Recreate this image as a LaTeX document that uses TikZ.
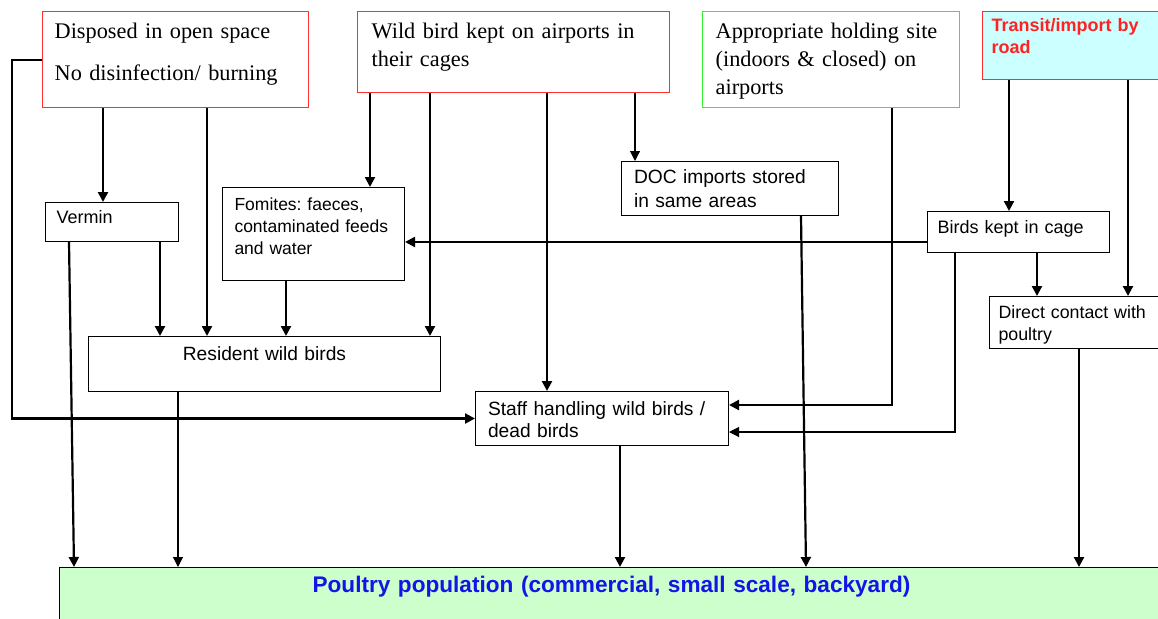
\documentclass[tikz,border=0pt]{standalone}
\usepackage{fontspec}
\setmainfont{Liberation Serif}
\setsansfont{Liberation Sans}
\usepackage{xcolor}
\usetikzlibrary{arrows.meta}
\definecolor{redline}{HTML}{FF3030}
\definecolor{greenline}{HTML}{30F030}
\definecolor{roadfill}{HTML}{CCFFFF}
\definecolor{roadtext}{HTML}{FF2222}
\definecolor{poultryfill}{HTML}{CCFFCC}
\definecolor{poultrytext}{HTML}{1414E6}
\frenchspacing
\tikzset{
  box/.style={draw, line width=1pt, anchor=north west, inner ysep=0pt, align=left,
    font=\sffamily\fontsize{18}{22.5}\selectfont},
  bigbox/.style={box, font=\sffamily\fontsize{19.2}{22.5}\selectfont},
  serifbox/.style={box, draw=redline, line width=1.3pt, font=\rmfamily\fontsize{22.3}{28}\selectfont},
  link/.style={line width=2.2pt, -{Triangle[length=10pt,width=10pt]}},
  thinlink/.style={line width=1.1pt, -{Triangle[length=10pt,width=10pt]}}
}

\begin{document}
\begin{tikzpicture}[x=1pt,y=-1pt]
\path[use as bounding box, clip] (0,0) rectangle (1158,618);
%% top row
\node[serifbox, text width=242pt, inner xsep=12pt, text height=27pt, text depth=69pt]
  (dispose) at (42,11) {Disposed in open space\\[14pt]No disinfection/ burning};
\node[serifbox, text width=284pt, inner xsep=14pt, text height=27pt, text depth=54pt]
  (wild) at (357,11) {Wild bird kept on airports in\\their cages};
\node[serifbox, draw=greenline, text width=231pt, inner xsep=13pt, text height=27pt, text depth=69pt]
  (hold) at (702,11) {Appropriate holding site\\(indoors \& closed) on\\airports};
\node[box, draw=redline, line width=1.3pt, fill=roadfill, text=roadtext, text width=182pt, inner xsep=9pt,
  text height=20pt, text depth=48pt, font=\sffamily\bfseries\fontsize{18}{22}\selectfont]
  (road) at (982,11) {Transit/import by\\road};
%% middle boxes
\node[box, text width=111pt, inner xsep=11pt, text height=21pt, text depth=18pt]
  (vermin) at (45,202) {Vermin};
\node[box, text width=158pt, inner xsep=12pt, text height=22.5pt, text depth=70.5pt,
  font=\sffamily\fontsize{17.5}{22}\selectfont]
  (fomites) at (222,187) {Fomites: faeces,\\contaminated~feeds\\and water};
\node[bigbox, text width=192pt, inner xsep=12.5pt, text height=21.5pt, text depth=32.5pt,
  font=\sffamily\fontsize{19.2}{24}\selectfont]
  (doc) at (621,161) {DOC imports stored\\in same areas};
\node[box, text width=162pt, inner xsep=10pt, text height=21.5pt, text depth=19.5pt]
  (cage) at (927,211) {Birds kept in cage};
\node[box, text width=182pt, inner xsep=9pt, text height=22pt, text depth=30pt,
  font=\sffamily\fontsize{17.8}{21.5}\selectfont]
  (direct) at (989,296) {Direct contact with\\poultry};
\node[bigbox, align=center, text width=352pt, inner xsep=0pt, text height=23.5pt, text depth=31.5pt]
  (resident) at (88,336) {Resident wild birds};
\node[bigbox, text width=228pt, inner xsep=12.5pt, text height=23.5pt, text depth=30.5pt]
  (staff) at (475,391) {Staff handling wild birds /\\dead birds};
%% bottom
\node[box, fill=poultryfill, text=poultrytext, align=center, text width=1104pt, inner xsep=0pt,
  text height=25pt, text depth=45pt, font=\sffamily\bfseries\fontsize{22.6}{26}\selectfont]
  (poultry) at (59,567) {Poultry population (commercial, small scale, backyard)};
%% links
\coordinate (holdbend) at (892,405);
\draw[link] (dispose.west) -- ++(-30,0) |- (staff.west);
\draw[link] (dispose.south -| 103,0) -- (vermin.north -| 103,0);
\draw[link] (dispose.south -| 207,0) -- (resident.north -| 207,0);
\draw[link] (wild.south -| 370,0) -- (fomites.north -| 370,0);
\draw[link] (wild.south -| 430,0) -- (resident.north -| 430,0);
\draw[link] (wild.south -| 547,0) -- (staff.north -| 547,0);
\draw[thinlink] (wild.south -| 635,0) -- (doc.north -| 635,0);
\draw[line width=1.1pt] (hold.south -| holdbend) -- ([yshift=-1.1pt]holdbend);
\draw[link] (holdbend) -- (staff.east |- holdbend);
\draw[link] (road.south -| 1009,0) -- (cage.north -| 1009,0);
\draw[link] (road.south -| 1128,0) -- (direct.north -| 1128,0);
\draw[link] (cage.west |- 0,242) -- (fomites.east |- 0,242);
\draw[link] (cage.south -| 1037,0) -- (direct.north -| 1037,0);
\draw[thinlink] (cage.south -| 955,0) |- (staff.east |- 0,432);
%% into poultry
\draw[link] (vermin.south -| 69,0) -- (poultry.north -| 74,0);
\draw[link] (vermin.south -| 160,0) -- (resident.north -| 160,0);
\draw[link] (fomites.south -| 286,0) -- (resident.north -| 286,0);
\draw[thinlink] (resident.south -| 178,0) -- (poultry.north -| 178,0);
\draw[link] (staff.south -| 620,0) -- (poultry.north -| 620,0);
\draw[link] (doc.south -| 801,0) -- (poultry.north -| 806,0);
\draw[link] (direct.south -| 1079,0) -- (poultry.north -| 1079,0);
\end{tikzpicture}
\end{document}
